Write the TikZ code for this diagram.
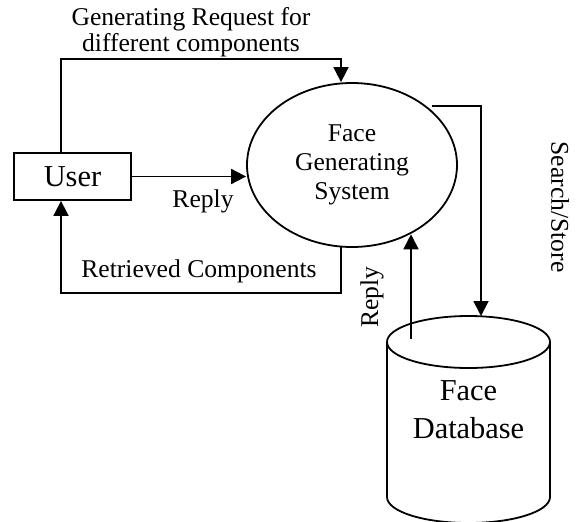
\documentclass[tikz,border=0pt]{standalone}
\usepackage{fontspec}
\setmainfont{Liberation Serif}
\usetikzlibrary{arrows.meta,calc,shapes.geometric}

\begin{document}
\begin{tikzpicture}[x=0.5pt, y=0.5pt, line width=0.9pt,
		flow/.style={-{Triangle[length=7.5pt,width=7.5pt]}},
		lbl/.style={font=\fontsize{12.8}{14}\selectfont, align=center, inner sep=0pt},
		big/.style={font=\fontsize{15.2}{19}\selectfont, align=center, inner sep=0pt}]
	\useasboundingbox (0,0) rectangle (577,521);

	% processes
	\node[draw, big, minimum width=58.5pt, minimum height=23.5pt] (user) at (72.5,344.5) {User};
	\node[draw, ellipse, lbl, font=\fontsize{12.8}{14.5}\selectfont,
		minimum width=105pt, minimum height=82pt] (sys) at (352,356) {Face\\Generating\\System};

	% data store
	\draw (387,179) -- (387,24) arc[start angle=180, end angle=360, x radius=81.5, y radius=26] -- (550,179);
	\draw (468.5,179) ellipse [x radius=81.5, y radius=26];
	\node[big] (db) at (468.5,111) {Face\\Database};
	\coordinate (dbin) at (481,205);
	\coordinate (dbout) at (411,182);

	% flows
	\draw[flow] ($(user.north)+(-11.5,0)$) |- ($(sys.north)+(-11,23)$) -- ($(sys.north)+(-11,0)$);
	\draw[flow] (user.east) -- (user.east -| sys.west);
	\draw[flow] ($(sys.south)+(-11,0.5)$) |- ($(user.south)+(-11.5,-92)$) -- ($(user.south)+(-11.5,0)$);
	\draw[flow] ($(sys.north east)+(5,0)$) -| (dbin);
	\draw[flow] (dbout) -- (dbout |- sys.310);

	% labels
	\node[lbl, font=\fontsize{12.8}{13}\selectfont] (req) at (191,489) {Generating Request for\\different components};
	\node[lbl] (rep1) at (203,320) {Reply};
	\node[lbl] (ret) at (199,250) {Retrieved Components};
	\node[lbl, rotate=-90] (ss) at (560,314) {Search/Store};
	\node[lbl, rotate=90] (rep2) at (372,224) {Reply};
\end{tikzpicture}
\end{document}
